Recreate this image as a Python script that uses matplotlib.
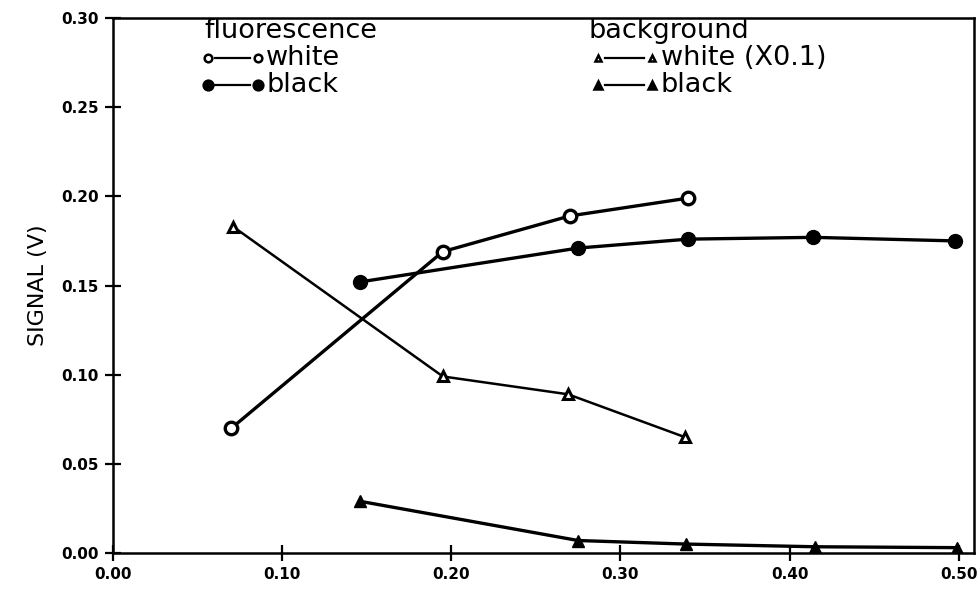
import matplotlib
matplotlib.use("Agg")
import matplotlib.pyplot as plt
from matplotlib.lines import Line2D

# fluorescence signal, white and black targets
fl_white_x = [0.070, 0.195, 0.270, 0.340]
fl_white_y = [0.070, 0.169, 0.189, 0.199]
fl_black_x = [0.146, 0.275, 0.340, 0.414, 0.498]
fl_black_y = [0.152, 0.171, 0.176, 0.177, 0.175]

# background signal, white (scaled by 0.1) and black targets
bg_white_x = [0.071, 0.195, 0.269, 0.338]
bg_white_y = [0.183, 0.099, 0.089, 0.065]
bg_black_x = [0.146, 0.275, 0.339, 0.415, 0.499]
bg_black_y = [0.029, 0.007, 0.005, 0.0035, 0.003]

x_ticks = [0.0, 0.1, 0.2, 0.3, 0.4, 0.5]
x_tick_labels = ["0.00", "0.10", "0.20", "0.30", "0.40", "0.50"]
y_ticks = [0.0, 0.05, 0.10, 0.15, 0.20, 0.25, 0.30]
y_tick_labels = ["0.00", "0.05", "0.10", "0.15", "0.20", "0.25", "0.30"]

fig = plt.figure(figsize=(9.8, 5.92), dpi=100)
ax = fig.add_axes([113 / 980, 1 - 553 / 592, 861 / 980, 535 / 592])

ax.plot(fl_white_x, fl_white_y, color="black", lw=2.4, marker="o", ms=9,
        mfc="white", mec="black", mew=2.4, zorder=3)
ax.plot(fl_black_x, fl_black_y, color="black", lw=2.4, marker="o", ms=10,
        mfc="black", mec="black", zorder=3)
ax.plot(bg_white_x, bg_white_y, color="black", lw=1.8, marker="^", ms=7,
        mfc="white", mec="black", mew=2.2, zorder=3)
ax.plot(bg_black_x, bg_black_y, color="black", lw=2.4, marker="^", ms=8,
        mfc="black", mec="black", zorder=3)

ax.set_xlim(0, 0.509)
ax.set_ylim(0, 0.30)
ax.set_xticks(x_ticks)
ax.set_xticklabels(x_tick_labels)
ax.set_yticks(y_ticks)
ax.set_yticklabels(y_tick_labels)
ax.tick_params(direction="inout", length=12, width=1.6, labelsize=11, pad=4)
for lab in ax.get_xticklabels() + ax.get_yticklabels():
    lab.set_fontweight("bold")
for s in ax.spines.values():
    s.set_linewidth(1.8)

ax.set_ylabel("SIGNAL (V)", fontsize=16, labelpad=10)

# hand-built key in the upper part of the axes
tr = ax.transAxes
kw_text = dict(transform=tr, fontsize=19.5, va="center", ha="left")

ax.text(0.106, 0.976, "fluorescence", **kw_text)
ax.text(0.552, 0.976, "background", **kw_text)

def key_row(x0, x1, y, marker, filled, label, ms):
    face = "black" if filled else "white"
    ax.add_line(Line2D([x0 + 0.009, x1 - 0.009], [y, y], transform=tr,
                       color="black", lw=1.6))
    for xm in (x0, x1):
        ax.add_line(Line2D([xm], [y], transform=tr, marker=marker, ms=ms,
                           mfc=face, mec="black", mew=1.8, ls="none"))
    ax.text(x1 + 0.010, y, label, **kw_text)

key_row(0.110, 0.168, 0.926, "o", False, "white", 5.5)
key_row(0.110, 0.168, 0.874, "o", True, "black", 7)
key_row(0.563, 0.626, 0.926, "^", False, "white (X0.1)", 5)
key_row(0.563, 0.626, 0.874, "^", True, "black", 6)

fig.savefig("out.png", dpi=100)
